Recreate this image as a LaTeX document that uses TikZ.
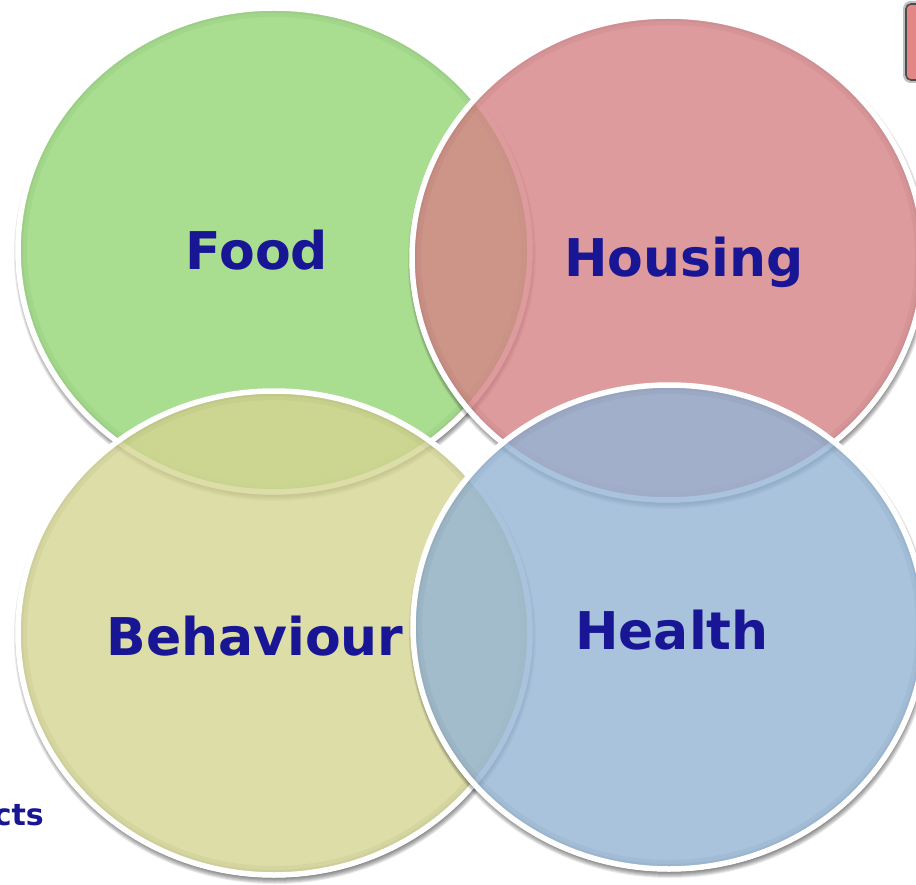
\documentclass[tikz,border=0pt]{standalone}
\usepackage{fontspec}
\setmainfont{DejaVu Sans}
\definecolor{cfood}{RGB}{148,214,118}
\definecolor{chouse}{RGB}{214,130,134}
\definecolor{cbeh}{RGB}{213,213,146}
\definecolor{chealth}{RGB}{148,180,213}
\definecolor{txtblue}{RGB}{24,22,148}
\definecolor{btnfill}{RGB}{226,134,134}
\tikzset{
  vlabel/.style={text=txtblue, font=\fontsize{52}{60}\selectfont\bfseries, anchor=base, inner sep=0pt},
  smalllabel/.style={text=txtblue, font=\fontsize{30}{34}\selectfont\bfseries, anchor=base east, inner sep=0pt},
}
\newcommand\venncircle[3]{%
  \begin{scope}[even odd rule]
    \clip (-20,-20) rectangle (940,910) (#1,#2) ellipse [x radius=258.5pt, y radius=244.5pt];
    \foreach \k in {0,...,6}{
      \fill[black, opacity=0.085] (#1+1,#2+4) ellipse [x radius={255pt+\k*1pt}, y radius={241pt+\k*1pt}];
    }
  \end{scope}
  \fill[#3, fill opacity=0.8] (#1,#2) ellipse [x radius=256pt, y radius=242pt];
  \begin{scope}
    \clip (#1,#2) ellipse [x radius=256pt, y radius=242pt];
    \draw[#3!60!black, opacity=0.08, line width=18pt] (#1,#2) ellipse [x radius=256pt, y radius=242pt];
    \draw[#3!60!black, opacity=0.08, line width=10pt] (#1,#2) ellipse [x radius=256pt, y radius=242pt];
  \end{scope}
  \draw[white, line width=5.5pt] (#1,#2) ellipse [x radius=256pt, y radius=242pt];
}
\begin{document}
\begin{tikzpicture}[x=1pt,y=-1pt]
\clip (0,0) rectangle (916,885);
\fill[white] (0,0) rectangle (916,885);
% partial button at top right
\node[draw=black!25, line width=4pt, rounded corners=6pt, minimum width=36pt, minimum height=78pt, inner sep=0pt] (btnglow) at (923,42) {};
\node[draw=black!70, fill=btnfill, line width=1.6pt, rounded corners=5pt, minimum width=34pt, minimum height=76pt, inner sep=0pt] (btn) at (923,42) {};
% circles
\venncircle{274}{250}{cfood}
\venncircle{668}{258}{chouse}
\venncircle{274}{633}{cbeh}
\venncircle{669}{627}{chealth}
% labels
\node[vlabel] (food) at (257,270) {Food};
\node[vlabel] (housing) at (684,277) {Housing};
\node[vlabel] (behaviour) at (255,655) {Behaviour};
\node[vlabel] (health) at (672,649) {Health};
\node[smalllabel] (cts) at (44,825) {cts};
\end{tikzpicture}
\end{document}
